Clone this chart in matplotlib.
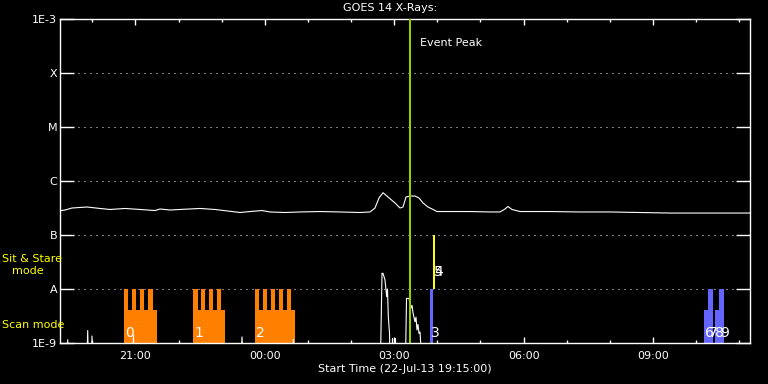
import numpy as np
import matplotlib
matplotlib.use("Agg")
import matplotlib.pyplot as plt
from matplotlib.ticker import NullLocator, FixedLocator

# time axis: hours since start (22-Jul-13 19:15:00)
x_major = [1.75, 4.75, 7.75, 10.75, 13.75]
x_labels = ['21:00', '00:00', '03:00', '06:00', '09:00']
y_levels = [1e-9, 1e-8, 1e-7, 1e-6, 1e-5, 1e-4, 1e-3]
y_labels = ['1E-9', 'A', 'B', 'C', 'M', 'X', '1E-3']

# GOES long channel
goes_t = [0.0, 0.116, 0.278, 0.626, 0.928, 1.159, 1.507, 1.855, 2.203, 2.319,
          2.551, 2.783, 3.246, 3.594, 4.174, 4.406, 4.684, 4.870, 5.217, 5.565,
          6.029, 6.493, 6.957, 7.188, 7.304, 7.397, 7.490, 7.606, 7.768, 7.884,
          7.954, 8.023, 8.116, 8.232, 8.325, 8.417, 8.533, 8.649, 8.742, 9.043,
          9.507, 9.971, 10.203, 10.319, 10.388, 10.481, 10.667, 11.362, 12.058,
          12.754, 13.449, 14.145, 14.841, 15.536, 16.0]
goes_f = [2.82e-7, 2.90e-7, 3.16e-7, 3.30e-7, 3.10e-7, 2.97e-7, 3.10e-7, 2.97e-7,
          2.84e-7, 3.03e-7, 2.90e-7, 2.97e-7, 3.10e-7, 2.97e-7, 2.61e-7, 2.72e-7,
          2.84e-7, 2.67e-7, 2.61e-7, 2.67e-7, 2.72e-7, 2.67e-7, 2.61e-7, 2.67e-7,
          3.16e-7, 4.84e-7, 6.07e-7, 5.06e-7, 3.92e-7, 3.16e-7, 3.30e-7, 5.06e-7,
          5.27e-7, 5.27e-7, 4.84e-7, 3.92e-7, 3.30e-7, 2.97e-7, 2.72e-7, 2.72e-7,
          2.72e-7, 2.67e-7, 2.67e-7, 3.03e-7, 3.37e-7, 2.97e-7, 2.72e-7, 2.72e-7,
          2.67e-7, 2.67e-7, 2.61e-7, 2.55e-7, 2.55e-7, 2.55e-7, 2.55e-7]

# GOES short channel (mostly below 1E-9)
short_t = [0.0, 0.162, 0.179, 0.195, 0.626, 0.642, 0.658, 0.730, 0.742, 0.756,
           1.693, 1.704, 1.716, 4.197, 4.220, 4.244, 5.403, 5.414, 5.426,
           7.432, 7.467, 7.490, 7.536, 7.575, 7.594, 7.613, 7.641, 7.652,
           7.699, 7.710, 7.722, 7.768, 7.779, 7.791,
           8.012, 8.035, 8.093, 8.139, 8.162, 8.186, 8.232, 8.255, 8.278, 8.301,
           8.325, 8.348, 8.387, 16.0]
short_f = [5e-10, 5e-10, 1.15e-9, 5e-10, 5e-10, 1.7e-9, 5e-10, 5e-10, 1.35e-9, 5e-10,
           5e-10, 1.4e-9, 5e-10, 5e-10, 1.3e-9, 5e-10, 5e-10, 1.15e-9, 5e-10,
           5e-10, 1.95e-8, 1.95e-8, 1.47e-8, 7.2e-9, 1.0e-8, 3.07e-9, 1.5e-9, 5e-10,
           5e-10, 1.2e-9, 5e-10, 5e-10, 1.2e-9, 5e-10,
           5e-10, 6.7e-9, 6.7e-9, 4.45e-9, 5e-9, 3.6e-9, 2.48e-9, 3e-9, 1.74e-9, 2.2e-9,
           1.5e-9, 1.6e-9, 5e-10, 5e-10]

# scan mode rasters (orange): tall teeth and lower blocks
orange_tooth_start = [1.484, 1.670, 1.855, 2.041, 3.084, 3.263, 3.448, 3.634,
                      4.522, 4.700, 4.886, 5.071, 5.257]
orange_tooth_end = [1.584, 1.762, 1.948, 2.150, 3.193, 3.369, 3.548, 3.733,
                    4.607, 4.793, 4.979, 5.165, 5.350]
orange_block_start = [1.484, 3.084, 4.522]
orange_block_end = [2.249, 3.826, 5.449]
# blue rasters
blue_tooth_start = [8.580, 15.026, 15.281]
blue_tooth_end = [8.642, 15.142, 15.397]
blue_block_start = [14.933, 15.188]
blue_block_end = [15.142, 15.397]
# sit & stare
stare_start = [8.656]
stare_end = [8.696]

raster_ids = ['0', '1', '2', '3', '4', '5', '6', '7', '8', '9']
raster_x = [1.507, 3.107, 4.545, 8.603, 8.672, 8.672, 14.956, 15.05, 15.19, 15.30]
raster_y = [1.56e-9, 1.56e-9, 1.56e-9, 1.56e-9, 2.07e-8, 2.07e-8,
            1.56e-9, 1.56e-9, 1.56e-9, 1.56e-9]

event_peak = 8.116

fig = plt.figure(figsize=(7.68, 3.84), dpi=100, facecolor='black')
ax = fig.add_axes([60/768, 41/384, 690/768, 324/384], facecolor='black')
ax.set_yscale('log')
ax.set_xlim(0, 16)
ax.set_ylim(1e-9, 1e-3)

for lev in y_levels[1:-1]:
    ax.axhline(lev, color='white', lw=0.72, ls=(0, (1, 5)), zorder=1)

low = 4.08e-9
base = 1e-9
def bars(s, e, top, color, bottom=base):
    s = np.array(s); e = np.array(e)
    ax.bar(s, top - bottom, width=e - s, bottom=bottom, align='edge',
           color=color, linewidth=0, zorder=2)

bars(orange_block_start, orange_block_end, low, '#ff8000')
bars(orange_tooth_start, orange_tooth_end, 1e-8, '#ff8000')
bars(blue_block_start, blue_block_end, low, '#6464ff')
bars(blue_tooth_start, blue_tooth_end, 1e-8, '#6464ff')
bars(stare_start, stare_end, 1e-7, '#ffff00', bottom=1e-8)

ax.plot(goes_t, goes_f, color='white', lw=0.8, zorder=3)
ax.plot(short_t, short_f, color='white', lw=0.8, zorder=3)

# raster numbers overlap in the original plot too
for lab, xx, yy in zip(raster_ids, raster_x, raster_y):
    ax.text(xx, yy, lab, color='white', fontsize=10, ha='left', va='center', zorder=4)

ax.axvline(event_peak, color='#99cc00', lw=1.5, zorder=5)
ax.text(event_peak + 0.24, 10**-3.45, 'Event Peak', color='white', fontsize=8,
        ha='left', va='center', zorder=5)

for sp in ax.spines.values():
    sp.set_color('white')
    sp.set_linewidth(1)

ax.set_yticks(y_levels)
ax.set_yticklabels(y_labels)
ax.yaxis.set_minor_locator(NullLocator())
ax.set_xticks(x_major)
ax.set_xticklabels(x_labels)
ax.xaxis.set_minor_locator(FixedLocator([0.75 + k for k in range(16)]))
ax.tick_params(axis='y', which='major', direction='in', length=10, width=1,
               colors='white', labelsize=8, pad=2, right=True)
ax.tick_params(axis='x', which='major', direction='in', length=4.5, width=1,
               colors='white', labelsize=8, pad=6, top=True)
ax.tick_params(axis='x', which='minor', direction='in', length=2.2, width=1,
               colors='white', top=True)
ax.set_xlabel('Start Time (22-Jul-13 19:15:00)', color='white', fontsize=8, labelpad=2)

fig.text(390/768, 1 - 8/384, 'GOES 14 X-Rays:', color='white', fontsize=8,
         ha='center', va='center')
fig.text(2/768, 1 - 259/384, 'Sit & Stare', color='#ffff00', fontsize=8,
         ha='left', va='center')
fig.text(12/768, 1 - 271.5/384, 'mode', color='#ffff00', fontsize=8,
         ha='left', va='center')
fig.text(2/768, 1 - 324.5/384, 'Scan mode', color='#ffff00', fontsize=8,
         ha='left', va='center')

fig.savefig('out.png', dpi=100, facecolor='black')
